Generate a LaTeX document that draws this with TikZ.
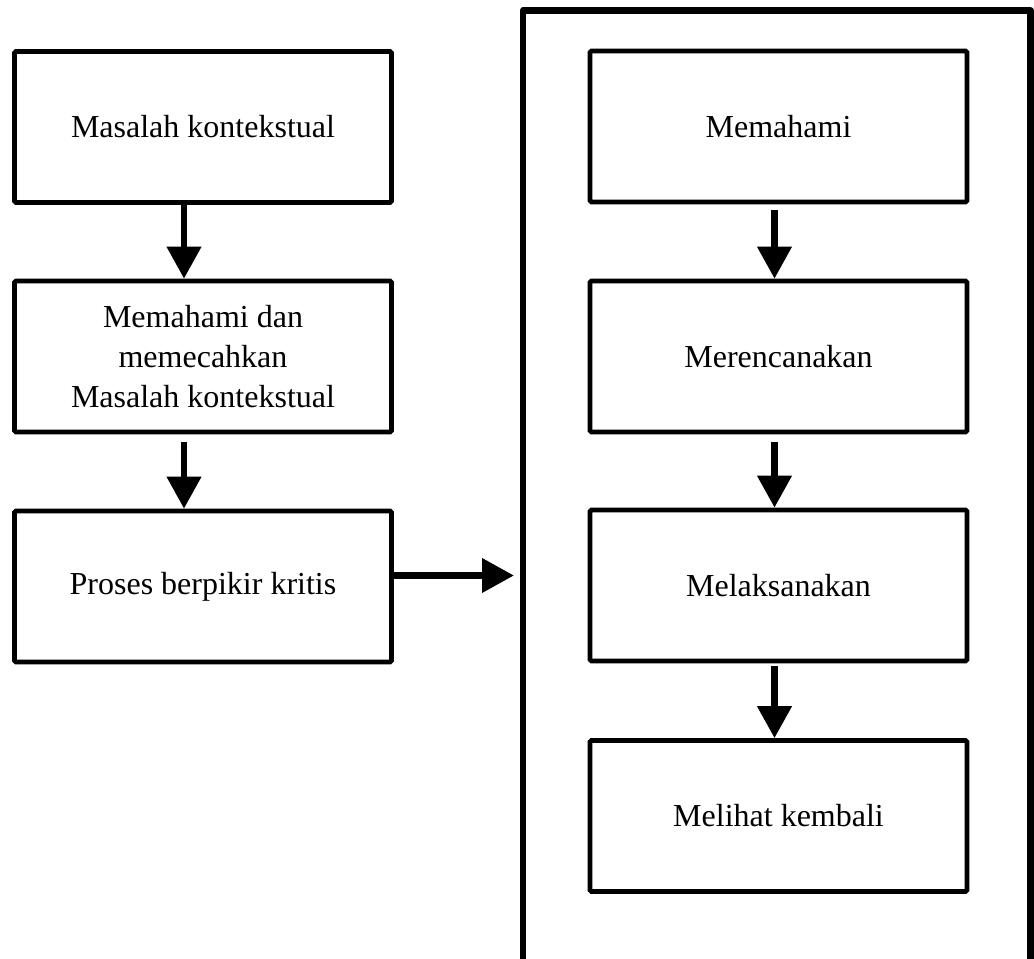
\documentclass[tikz,border=0pt]{standalone}
\usepackage{fontspec}
\setmainfont{Liberation Serif}
\usetikzlibrary{arrows.meta}
\usetikzlibrary{positioning}
\tikzset{box/.style = {draw, line width = 3.4pt, rounded corners = 1pt,
                       minimum width = 282.75pt, minimum height = 113.25pt,
                       align = center, font = \fontsize{24}{30}\selectfont}}
\tikzset{flow/.style = {line width = 5.2pt, -{Triangle[width = 24.75pt, length = 24pt]}}}
\tikzset{bigframe/.style = {line width = 4.9pt, line join = round}}

\begin{document}
\begin{tikzpicture}[x = 0.75pt, y = -0.75pt]
      \useasboundingbox (0, 0) rectangle (1034, 959);
      \clip (0, 0) rectangle (1034, 959);
      \node [box] (masalah) at (203, 127) {Masalah kontekstual};
      \node [box] (memecahkan) at (203, 356.5) {Memahami dan\\memecahkan\\Masalah kontekstual};
      \node [box] (proses) at (203, 586.5) {Proses berpikir kritis};
      \node [box] (memahami) at (778.5, 126.5) {Memahami};
      \node [box] (merencanakan) at (778.5, 356.5) {Merencanakan};
      \node [box] (melaksanakan) at (778.5, 585.5) {Melaksanakan};
      \node [box] (melihat) at (778.5, 816) {Melihat kembali};
      \draw [bigframe] (523, 985) -- (523, 10.5) -- (1030.5, 10.5) -- (1030.5, 985);
      \coordinate (masuk) at (514, 575.5);
      \draw [flow] ([xshift = -14.25pt] masalah.south) -- ([xshift = -14.25pt] memecahkan.north);
      \draw [flow, shorten <= 6pt] ([xshift = -14.25pt] memecahkan.south) -- ([xshift = -14.25pt] proses.north);
      \draw [flow] ([yshift = 8.25pt] proses.east) -- (masuk);
      \draw [flow, shorten <= 4.5pt] ([xshift = -3pt] memahami.south) -- ([xshift = -3pt] merencanakan.north);
      \draw [flow, shorten <= 6pt] ([xshift = -3pt] merencanakan.south) -- ([xshift = -3pt] melaksanakan.north);
      \draw [flow, shorten <= 2pt] ([xshift = -3pt] melaksanakan.south) -- ([xshift = -3pt] melihat.north);
\end{tikzpicture}
\end{document}
